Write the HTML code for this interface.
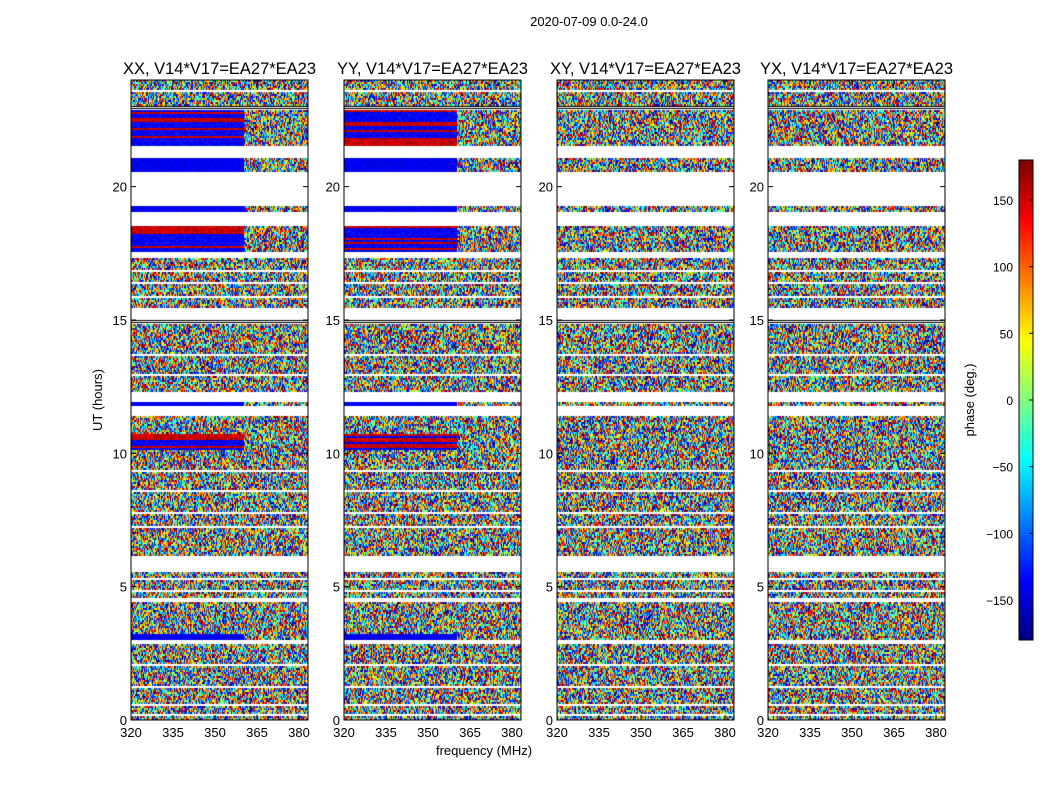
<!DOCTYPE html>
<html><head><meta charset="utf-8"><style>
body{margin:0;background:#fff;width:1050px;height:800px;overflow:hidden;position:relative;font-family:"Liberation Sans","DejaVu Sans",sans-serif}
canvas{position:absolute}
svg{position:absolute;left:0;top:0}
</style></head><body>
<canvas id="cv" width="1050" height="800" style="left:0;top:0"></canvas>
<svg id="ov" width="1050" height="800"></svg>
<script>
// ---- data ----
const panelTitles=["XX, V14*V17=EA27*EA23","YY, V14*V17=EA27*EA23","XY, V14*V17=EA27*EA23","YX, V14*V17=EA27*EA23"];
const panelCross=[false,false,true,true];
const freqTicks=[320,335,350,365,380];
const utTicks=[0,5,10,15,20];
const cbarTicks=[-150,-100,-50,0,50,100,150];
// row bands (UT hours): start, end, kind  n=noise w=flagged b=blue(-165 deg) low freq r=red/blue mix low freq k=black line
const bandStart=[0,2.9,3.05,3.3,4.45,4.6,5.6,6.2,10.2,10.8,11.45,11.8,12.0,12.3,14.9,15.05,15.5,17.4,17.6,18.6,19.1,19.3,20.6,21.1,21.6,22.9,23.1];
const bandEnd=[2.9,3.05,3.3,4.45,4.6,5.6,6.2,10.2,10.8,11.45,11.8,12.0,12.3,14.9,15.05,15.5,17.4,17.6,18.6,19.1,19.3,20.6,21.1,21.6,22.9,23.1,24];
const bandKind=["n","w","b","n","w","n","w","n","r","n","w","b","w","n","k","w","n","w","r","w","b","w","b","w","r","k","n"];
const thinGaps=[0.2,0.6,1.3,2.1,4.9,5.3,7.3,7.8,8.6,9.4,13.0,13.7,15.9,16.4,16.9,23.6];

// ---- geometry ----
const panelX=[131,344,557,768], pw=177, yTop=80, yBot=720;
const f0=320,f1=383.2;
function xs(p,f){return panelX[p]+(f-f0)/(f1-f0)*pw}
function ys(h){return yBot-(h/24)*(yBot-yTop)}
function jet(v){
  const r=Math.min(Math.max(1.5-Math.abs(4*v-3),0),1),g=Math.min(Math.max(1.5-Math.abs(4*v-2),0),1),b=Math.min(Math.max(1.5-Math.abs(4*v-1),0),1);
  return `rgb(${r*255|0},${g*255|0},${b*255|0})`;
}
// decorative texture hash (visual noise only)
function tex(i,j,p){let h=Math.imul(i+1,0x9E3779B1)^Math.imul(j+7,0x85EBCA77)^Math.imul(p+3,0xC2B2AE3D);h^=h>>>15;h=Math.imul(h,0x2C1B3C6D);h^=h>>>12;h=Math.imul(h,0x297A2D39);h^=h>>>15;return ((h>>>0)%10000)/10000}
const ctx=document.getElementById('cv').getContext('2d');
const cw=1,ch=2;
for(let p=0;p<4;p++){
  for(let y=yTop;y<yBot;y+=ch){
    const h=(yBot-y)/(yBot-yTop)*24;
    let k="n";
    for(let b=0;b<bandStart.length;b++) if(h>=bandStart[b]&&h<bandEnd[b]){k=bandKind[b];break;}
    if(thinGaps.some(g=>Math.abs(g-h)<0.04)) k="w";
    if(k==="w")continue;
    if(k==="k"){ctx.fillStyle="#000";ctx.fillRect(panelX[p],y,pw,1);continue;}
    if(panelCross[p]&&(k==="b"||k==="r"))k="n";
    const rowRed=tex(0,y,p)>0.6;
    for(let x=panelX[p];x<panelX[p]+pw;x+=cw){
      const f=f0+(x-panelX[p])/pw*(f1-f0);
      let v=tex(x,y,p);
      if((k==="b"||k==="r")&&f<360){
        if(k==="b") v=0.08+0.06*v;
        else v=rowRed? 0.88+0.1*v : 0.08+0.08*v;
      }
      ctx.fillStyle=jet(v);ctx.fillRect(x,y,cw,ch);
    }
  }
}
for(let y=160;y<640;y++){ctx.fillStyle=jet((640-y)/480);ctx.fillRect(1019,y,14,1);}

// ---- overlay ----
const svg=document.getElementById('ov');const NS="http://www.w3.org/2000/svg";
function el(t,a,txt){const e=document.createElementNS(NS,t);for(const k in a)e.setAttribute(k,a[k]);if(txt!==undefined)e.textContent=txt;svg.appendChild(e);return e}
let e=el('text',{x:589,y:26,'font-size':13,'text-anchor':'middle'},"2020-07-09 0.0-24.0");


for(let p=0;p<4;p++){
  e=el('rect',{x:panelX[p],y:yTop,width:pw,height:yBot-yTop,fill:'none',stroke:'#000','stroke-width':1});
  
  
  e=el('text',{x:panelX[p]+pw/2,y:74,'font-size':16.5,'text-anchor':'middle'},panelTitles[p]);
  
  
  freqTicks.forEach(f=>{
    const x=xs(p,f);
    el('line',{x1:x,x2:x,y1:yBot,y2:yBot-5,stroke:'#000'});
    el('line',{x1:x,x2:x,y1:yTop,y2:yTop+5,stroke:'#000'});
    e=el('text',{x:x,y:737,'font-size':13,'text-anchor':'middle'},f);
    
    
  });
  utTicks.forEach(u=>{
    const y=ys(u);
    el('line',{x1:panelX[p],x2:panelX[p]+5,y1:y,y2:y,stroke:'#000'});
    el('line',{x1:panelX[p]+pw,x2:panelX[p]+pw-5,y1:y,y2:y,stroke:'#000'});
    e=el('text',{x:panelX[p]-4,y:y+5,'font-size':13,'text-anchor':'end'},u);
    
    
  });
}
e=el('text',{x:484,y:755,'font-size':13,'text-anchor':'middle'},"frequency (MHz)");


e=el('text',{x:102,y:400,'font-size':13,'text-anchor':'middle',transform:'rotate(-90 102 400)'},"UT (hours)");


e=el('rect',{x:1019,y:160,width:14,height:480,fill:'none',stroke:'#000'});


cbarTicks.forEach(c=>{
  const y=400-c*480/360;
  el('line',{x1:1029,x2:1033,y1:y,y2:y,stroke:'#000'});
  e=el('text',{x:1013,y:y+5,'font-size':12,'text-anchor':'end'},c<0?"\u2212"+(-c):c);
  
  
});
e=el('text',{x:974,y:400,'font-size':13,'text-anchor':'middle',transform:'rotate(-90 974 400)'},"phase (deg.)");


</script>
</body></html>
